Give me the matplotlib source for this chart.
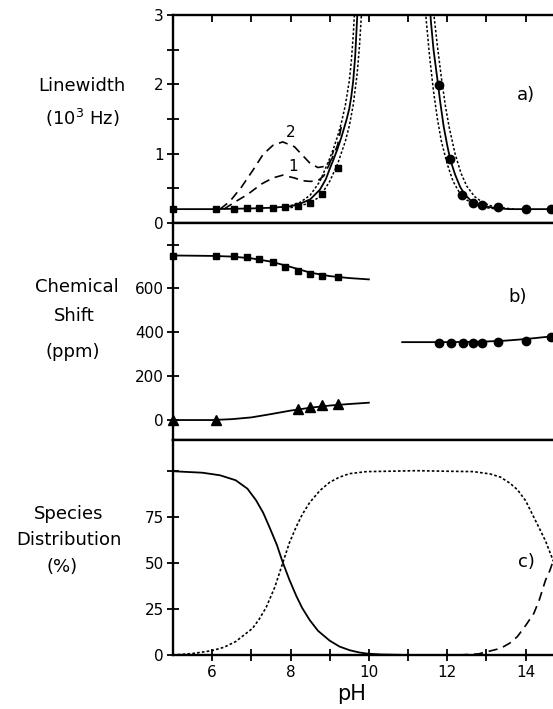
import matplotlib
matplotlib.use('Agg')
import matplotlib.pyplot as plt

plt.rcParams['font.family'] = ['DejaVu Sans']

# ---------------- data ----------------
# Panel a: linewidth (10^3 Hz)
lw_sq_ph = [5.0, 6.1, 6.55, 6.9, 7.2, 7.55, 7.85, 8.2, 8.5, 8.8, 9.2]
lw_sq_val = [0.2, 0.2, 0.2, 0.21, 0.21, 0.22, 0.23, 0.25, 0.29, 0.42, 0.8]
lw_ci_ph = [11.8, 12.08, 12.38, 12.66, 12.88, 13.3, 14.0, 14.64]
lw_ci_val = [1.99, 0.92, 0.40, 0.29, 0.26, 0.23, 0.2, 0.2]

fit_lo_ph = [5.0, 6.0, 7.0, 7.5, 8.0, 8.25, 8.5, 8.75, 8.9, 9.0, 9.1, 9.2, 9.3, 9.43, 9.5, 9.55, 9.6, 9.65, 9.7, 9.74]
fit_lo_val = [0.2, 0.2, 0.21, 0.22, 0.24, 0.28, 0.34, 0.48, 0.63, 0.78, 0.92, 1.07, 1.24, 1.49, 1.65, 1.82, 2.05, 2.4, 2.95, 3.4]
dotA_lo_ph = [8.0, 8.25, 8.5, 8.75, 9.0, 9.1, 9.2, 9.3, 9.4, 9.5, 9.55, 9.6, 9.64, 9.68]
dotA_lo_val = [0.25, 0.3, 0.4, 0.6, 0.93, 1.08, 1.25, 1.45, 1.7, 2.05, 2.32, 2.7, 3.1, 3.5]
dotB_lo_ph = [8.0, 8.25, 8.5, 8.75, 9.0, 9.2, 9.4, 9.5, 9.6, 9.7, 9.76, 9.82, 9.86]
dotB_lo_val = [0.22, 0.25, 0.29, 0.38, 0.6, 0.85, 1.18, 1.4, 1.7, 2.15, 2.55, 3.1, 3.5]

fit_hi_ph = [11.54, 11.58, 11.65, 11.74, 11.82, 11.91, 12.0, 12.08, 12.2, 12.33, 12.45, 12.59, 12.8, 13.02, 13.3, 13.6, 14.0, 14.7]
fit_hi_val = [3.4, 2.93, 2.5, 2.11, 1.75, 1.39, 1.12, 0.91, 0.7, 0.52, 0.41, 0.33, 0.26, 0.235, 0.21, 0.2, 0.2, 0.2]
dotA_hi_ph = [11.42, 11.46, 11.55, 11.65, 11.75, 11.85, 12.0, 12.15, 12.3, 12.5, 12.75, 13.0, 13.3]
dotA_hi_val = [3.4, 2.95, 2.4, 1.9, 1.5, 1.18, 0.85, 0.6, 0.45, 0.33, 0.26, 0.22, 0.2]
dotB_hi_ph = [11.63, 11.67, 11.75, 11.85, 11.95, 12.05, 12.2, 12.35, 12.5, 12.7, 12.9, 13.1, 13.4, 13.7]
dotB_hi_val = [3.4, 2.95, 2.55, 2.1, 1.7, 1.38, 1.0, 0.72, 0.53, 0.38, 0.3, 0.25, 0.22, 0.2]

dash2_ph = [6.2, 6.45, 6.75, 7.05, 7.3, 7.55, 7.8, 8.1, 8.3, 8.5, 8.7, 8.9, 9.05, 9.2, 9.3]
dash2_val = [0.2, 0.31, 0.52, 0.77, 0.99, 1.12, 1.17, 1.1, 0.98, 0.86, 0.8, 0.82, 0.92, 1.12, 1.4]
dash1_ph = [6.3, 6.6, 6.9, 7.25, 7.55, 7.8, 8.1, 8.3, 8.5, 8.7, 8.85, 9.0, 9.1]
dash1_val = [0.2, 0.31, 0.41, 0.56, 0.65, 0.69, 0.65, 0.61, 0.6, 0.61, 0.68, 0.86, 1.05]

# Panel b: chemical shift (ppm)
cs_sq_ph = [5.0, 6.1, 6.55, 6.9, 7.2, 7.55, 7.85, 8.2, 8.5, 8.8, 9.2]
cs_sq_val = [747, 747, 747, 741, 732, 722, 699, 681, 665, 658, 650]
cs_tr_ph = [5.0, 6.1, 8.2, 8.5, 8.8, 9.2]
cs_tr_val = [0, 2, 49, 58, 68, 75]
cs_ci_ph = [11.8, 12.1, 12.4, 12.65, 12.9, 13.3, 14.0, 14.65]
cs_ci_val = [352, 352, 352, 352, 352, 357, 360, 380]

cs_sq_fit_ph = [5.0, 6.0, 6.5, 7.0, 7.5, 8.0, 8.5, 9.0, 9.5, 10.0]
cs_sq_fit_val = [750, 748, 745, 737, 722, 698, 672, 656, 647, 641]
cs_tr_fit_ph = [5.0, 6.0, 6.5, 7.0, 7.5, 8.0, 8.5, 9.0, 9.5, 10.0]
cs_tr_fit_val = [0, 0, 4, 12, 27, 43, 56, 66, 73, 79]
cs_ci_fit_ph = [10.85, 11.5, 12.0, 12.5, 13.0, 13.5, 14.0, 14.7]
cs_ci_fit_val = [355, 355, 355, 356, 358, 362, 369, 382]

# Panel c: species distribution (%)
sp1_ph = [5.0, 5.75, 6.2, 6.6, 6.9, 7.12, 7.3, 7.46, 7.65, 7.8, 7.97, 8.15, 8.3, 8.49, 8.7, 9.0, 9.25, 9.51, 9.75, 9.94, 10.3, 11.0]
sp1_val = [100, 99.2, 97.8, 95.1, 90.5, 84.2, 77.5, 69.7, 60, 50.5, 41, 32, 25.5, 19, 13.2, 7.8, 4.6, 2.6, 1.4, 0.8, 0.3, 0]
sp2_ph = [5.0, 5.5, 6.0, 6.3, 6.6, 7.03, 7.2, 7.38, 7.6, 7.8, 7.97, 8.15, 8.3, 8.49, 8.75, 9.0, 9.25, 9.51, 9.94, 10.5, 11.2, 12.0, 12.67, 13.1, 13.36, 13.6, 13.79, 14.0, 14.21, 14.35, 14.51, 14.62, 14.71]
sp2_val = [0, 0.8, 2.4, 4.2, 7.3, 14.5, 19.5, 26, 37, 50, 61, 70, 76.5, 83, 89.5, 94, 96.8, 98.7, 99.8, 100, 100.3, 100, 99.8, 98.5, 96.8, 93.5, 90, 84, 75, 69, 62, 56, 51]
sp3_ph = [12.3, 12.8, 13.02, 13.36, 13.6, 13.79, 14.0, 14.21, 14.35, 14.51, 14.62, 14.71]
sp3_val = [0, 0.6, 1.8, 3.6, 6.5, 10, 16, 22.6, 30, 40.8, 46, 51.6]

# ---------------- layout ----------------
W, H = 553, 709
fig = plt.figure(figsize=(W / 100, H / 100), dpi=100)


def fx(px):
    return px / W


def fy(py):
    return 1 - py / H


left = fx(173)
axa = fig.add_axes([left, fy(223), 1 - left, fy(15) - fy(223)])
axb = fig.add_axes([left, fy(440), 1 - left, fy(223) - fy(440)])
axc = fig.add_axes([left, fy(655), 1 - left, fy(440) - fy(655)])

SPW = 1.7
LW = 1.3
DOT = (0, (1.6, 1.3))
DASH = (0, (5.5, 3.5))
TICKFS = 11

for ax in (axa, axb, axc):
    ax.set_xlim(5, 14.7)
    ax.spines['right'].set_visible(False)
    for s in ('left', 'top', 'bottom'):
        ax.spines[s].set_linewidth(SPW)
    ax.tick_params(axis='y', which='both', direction='inout', width=1.3,
                   labelsize=TICKFS, pad=2)
    ax.tick_params(axis='y', which='major', length=9)
    ax.tick_params(axis='y', which='minor', length=8)
    ax.set_xticks([])

# ---- panel a ----
axa.set_ylim(0, 3)
axa.set_yticks([0, 1, 2, 3])
axa.set_yticks([0.5, 1.5, 2.5], minor=True)
axa.set_xticks(range(5, 15))
axa.tick_params(axis='x', which='major', direction='in', top=True, bottom=False,
                labeltop=False, labelbottom=False, length=5, width=1.3)

axa.plot(fit_lo_ph, fit_lo_val, color='black', lw=LW)
axa.plot(dotA_lo_ph, dotA_lo_val, color='black', lw=1.1, ls=DOT)
axa.plot(dotB_lo_ph, dotB_lo_val, color='black', lw=1.1, ls=DOT)
axa.plot(fit_hi_ph, fit_hi_val, color='black', lw=LW)
axa.plot(dotA_hi_ph, dotA_hi_val, color='black', lw=1.1, ls=DOT)
axa.plot(dotB_hi_ph, dotB_hi_val, color='black', lw=1.1, ls=DOT)
axa.plot(dash2_ph, dash2_val, color='black', lw=1.2, ls=DASH)
axa.plot(dash1_ph, dash1_val, color='black', lw=1.2, ls=DASH)
axa.plot(lw_sq_ph, lw_sq_val, 's', color='black', ms=5, clip_on=False, zorder=5)
axa.plot(lw_ci_ph, lw_ci_val, 'o', color='black', ms=6, clip_on=False, zorder=5)
axa.text(8.0, 1.3, '2', fontsize=11, ha='center', va='center')
axa.text(8.06, 0.82, '1', fontsize=11, ha='center', va='center')
axa.text(14.0, 1.84, 'a)', fontsize=13, ha='center', va='center')

# ---- panel b ----
axb.set_ylim(-91, 898)
axb.set_yticks([0, 200, 400, 600, 800])
axb.set_yticklabels(['0', '200', '400', '600', ''])
axb.plot(cs_sq_fit_ph, cs_sq_fit_val, color='black', lw=LW)
axb.plot(cs_tr_fit_ph, cs_tr_fit_val, color='black', lw=LW)
axb.plot(cs_ci_fit_ph, cs_ci_fit_val, color='black', lw=LW)
axb.plot(cs_sq_ph, cs_sq_val, 's', color='black', ms=5, clip_on=False, zorder=5)
axb.plot(cs_tr_ph, cs_tr_val, '^', color='black', ms=6.5, clip_on=False, zorder=5)
axb.plot(cs_ci_ph, cs_ci_val, 'o', color='black', ms=6, clip_on=False, zorder=5)
axb.text(13.8, 560, 'b)', fontsize=13, ha='center', va='center')

# ---- panel c ----
axc.set_ylim(0, 117)
axc.set_yticks([0, 25, 50, 75, 100])
axc.set_yticklabels(['0', '25', '50', '75', ''])
axc.plot(sp1_ph, sp1_val, color='black', lw=LW)
axc.plot(sp2_ph, sp2_val, color='black', lw=1.2, ls=DOT)
axc.plot(sp3_ph, sp3_val, color='black', lw=1.2, ls=DASH)
axc.set_xticks(range(6, 15))
axc.set_xticklabels(['6', '', '8', '', '10', '', '12', '', '14'])
axc.tick_params(axis='x', which='major', direction='inout', length=9, width=1.3,
                labelsize=TICKFS, pad=3)
axc.text(14.03, 50.5, 'c)', fontsize=13, ha='center', va='center')

# ---- left titles ----
LABFS = 13
labels = [
    ('Linewidth', 82, 86),
    ('(10$^3$ Hz)', 82, 118),
    ('Chemical', 77, 287),
    ('Shift', 74, 316),
    ('(ppm)', 73, 352),
    ('Species', 69, 514),
    ('Distribution', 69, 540),
    ('(%)', 62, 567),
]
for txt, px, py in labels:
    fig.text(fx(px), fy(py), txt, fontsize=LABFS, ha='center', va='center')

fig.text(fx(352), fy(694), 'pH', fontsize=15, ha='center', va='center')

fig.savefig('out.png', dpi=100)
